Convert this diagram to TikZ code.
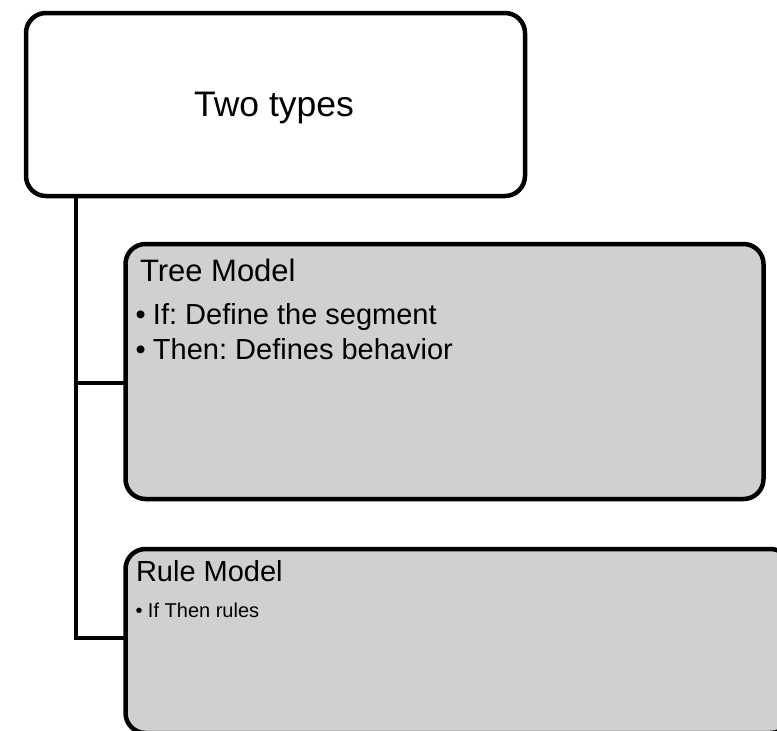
\documentclass[tikz,border=0pt]{standalone}
\usepackage{fontspec}
\setmainfont{Liberation Sans}
\frenchspacing
\definecolor{boxgray}{RGB}{208,208,208}
\tikzset{
  box/.style={draw=black, line width=4.5pt, rounded corners=20pt, outer sep=0pt, inner sep=0pt, anchor=north west},
  topbox/.style={box, fill=white},
  graybox/.style={box, fill=boxgray},
  conn/.style={line width=4pt, draw=black},
  lbl/.style={inner sep=0pt, outer sep=0pt, anchor=base west, text=black},
}
\newcommand{\fs}[1]{\fontsize{#1}{#1}\selectfont}
\begin{document}
\begin{tikzpicture}[x=1pt,y=-1pt]
\clip (0,0) rectangle (777,731);
% boxes
\node[topbox, minimum width=499pt, minimum height=183pt] (top) at (26,13) {};
\node[graybox, minimum width=638pt, minimum height=255pt] (tree) at (125.5,244) {};
\node[graybox, minimum width=665pt, minimum height=184pt] (rule) at (125.5,549) {};
% connectors
\draw[conn] ([xshift=50pt]top.south west) |- ([yshift=-11.5pt]tree.west);
\draw[conn] ([xshift=50pt]top.south west) |- ([yshift=3pt]rule.west);
% texts
\node[inner sep=0pt, anchor=base, font=\fs{35.5}] (ttl) at (274,116) {Two types};
\node[lbl, font=\fs{31}] (treettl) at (140,281) {Tree Model};
\node[lbl, font=\fs{29}] (tb1) at (135.5,324) {\makebox[17.5pt][l]{•}If: Define the segment};
\node[lbl, font=\fs{29}] (tb2) at (135.5,359) {\makebox[17.5pt][l]{•}Then: Defines behavior};
\node[lbl, font=\fs{29}] (rulettl) at (136,581.5) {Rule Model};
\node[lbl, font=\fs{20}] (rb1) at (135.5,617) {\makebox[12.5pt][l]{•}If Then rules};
\end{tikzpicture}
\end{document}
